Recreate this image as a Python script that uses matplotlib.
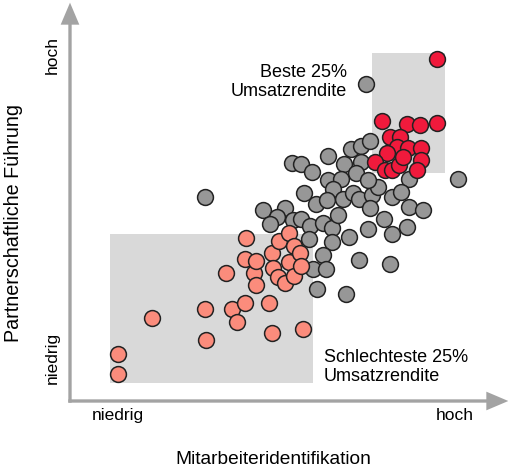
import matplotlib.pyplot as plt
from matplotlib.patches import Rectangle

plt.rcParams['font.family'] = ['Liberation Sans', 'DejaVu Sans']

# Werte in willkürlichen Einheiten (0 = Achsenursprung)
grau_x = [88.8, 116.5, 40.6, 66.7, 69.3, 72.5, 77.3, 82.3, 84.3, 87.3, 89.9, 87.4, 85.8,
          77.3, 81.3, 78.8, 70.1, 73.8, 77.0, 81.8, 84.8, 86.7, 90.5, 92.5, 89.3, 101.7,
          96.5, 99.3, 101.8, 106.0, 89.9, 94.3, 89.5, 83.8, 96.5, 101.0, 58.0, 64.4, 62.1,
          60.0, 66.8, 69.2, 72.0, 75.9, 78.5, 80.5, 71.8, 78.5, 76.0, 73.0, 76.8, 86.8,
          96.0, 74.0, 82.8]
grau_y = [95.0, 66.6, 61.3, 71.4, 71.0, 68.8, 73.5, 71.0, 75.6, 76.4, 78.0, 71.8, 68.5,
          66.3, 66.5, 63.6, 62.4, 59.0, 60.3, 60.5, 62.4, 60.5, 61.8, 64.3, 66.3, 66.5,
          61.2, 62.6, 58.1, 57.2, 57.8, 54.7, 51.6, 49.1, 50.1, 52.3, 57.3, 57.8, 55.3,
          53.1, 54.3, 54.7, 52.4, 53.4, 51.9, 55.8, 48.6, 47.8, 43.7, 39.5, 39.5, 42.2,
          41.1, 33.5, 32.1]

schlecht_x = [14.3, 14.3, 24.5, 40.6, 40.7, 46.7, 48.7, 50.0, 52.5, 52.8, 52.5, 55.2, 55.7,
              55.8, 59.8, 60.5, 69.8, 60.5, 61.0, 62.5, 62.8, 64.5, 65.8, 65.8, 67.2, 67.2,
              69.0, 69.2]
schlecht_y = [14.0, 8.0, 24.8, 27.6, 18.4, 38.5, 27.6, 23.6, 29.5, 49.0, 42.5, 38.5, 34.8,
              42.1, 29.5, 20.3, 21.5, 44.3, 39.8, 37.3, 48.1, 35.3, 50.3, 41.8, 37.5, 46.5,
              44.3, 40.6]

beste_x = [110.0, 93.5, 101.0, 105.0, 110.0, 96.0, 99.0, 98.0, 101.3, 105.3, 95.0, 91.5,
           105.3, 94.5, 96.6, 98.7, 104.0, 99.9]
beste_y = [102.6, 84.1, 83.1, 82.8, 83.3, 79.2, 79.2, 76.3, 75.8, 75.9, 74.3, 71.7,
           72.4, 69.3, 69.3, 70.8, 69.4, 73.2]

fig = plt.figure(figsize=(5.08, 4.69), dpi=100)
ax = fig.add_axes([0, 0, 1, 1])
ax.set_xlim(-21, 131.4)
ax.set_ylim(-20.4, 120.3)
ax.axis('off')

# Bereiche
ax.add_patch(Rectangle((12.0, 5.3), 60.8, 44.8, color='#d9d9d9', lw=0, zorder=0))
ax.add_patch(Rectangle((90.5, 68.3), 22.0, 36.2, color='#d9d9d9', lw=0, zorder=0))

# Achsenpfeile
pfeil = dict(width=1.0, head_width=5.6, head_length=6.6, length_includes_head=True,
             color='#a3a3a3', lw=0, zorder=1)
ax.arrow(0, -0.5, 0, 120, **pfeil)
ax.arrow(-0.5, 0, 132, 0, **pfeil)

punkt = dict(s=130, edgecolors='#222222', linewidths=1.1)
ax.scatter(grau_x, grau_y, c='#979797', zorder=2, **punkt)
ax.scatter(schlecht_x, schlecht_y, c='#fb8c7c', zorder=3, **punkt)
ax.scatter(beste_x, beste_y, c='#f01a3c', zorder=4, **punkt)

# Beschriftung
ax.text(14.5, -4.4, 'niedrig', ha='center', va='center', fontsize=12.5)
ax.text(115.3, -4.4, 'hoch', ha='center', va='center', fontsize=12.5)
ax.text(61, -17.4, 'Mitarbeiteridentifikation', ha='center', va='center', fontsize=13.8)
ax.text(-5.3, 103.8, 'hoch', ha='center', va='center', rotation=90, fontsize=12.5)
ax.text(-5.3, 12.8, 'niedrig', ha='center', va='center', rotation=90, fontsize=12.5)
ax.text(-16.8, 53.3, 'Partnerschaftliche Führung', ha='center', va='center',
        rotation=90, fontsize=14.2)

ax.text(83.1, 95.8, 'Beste 25%\nUmsatzrendite', ha='right', va='center',
        multialignment='right', fontsize=13, linespacing=1.15)
ax.text(76.2, 10.3, 'Schlechteste 25%\nUmsatzrendite', ha='left', va='center',
        fontsize=13, linespacing=1.15)

fig.savefig('out.png', dpi=100)
